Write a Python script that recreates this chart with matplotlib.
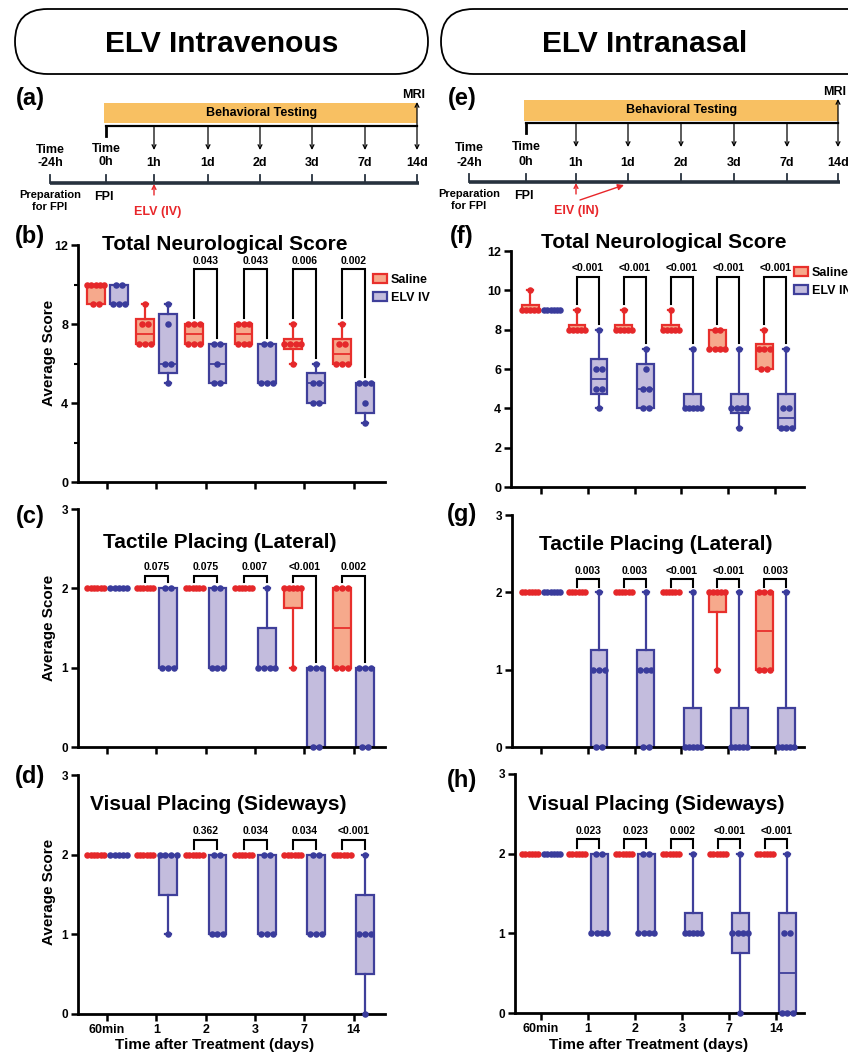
import numpy as np
import matplotlib
matplotlib.use('Agg')
import matplotlib.pyplot as plt
from matplotlib.patches import FancyBboxPatch, Rectangle, Patch

plt.rcParams['font.family'] = ['Liberation Sans', 'DejaVu Sans']
plt.rcParams['font.weight'] = 'bold'
plt.rcParams['axes.labelweight'] = 'bold'

W, H = 848, 1055

# ---------------- data ----------------
categories = ['60min', '1', '2', '3', '7', '14']
timeline_labels = ['1h', '1d', '2d', '3d', '7d', '14d']

# (b) ELV intravenous - Total Neurological Score
iv_total_saline = [[9, 9, 10, 10, 10, 10, 10], [7, 7, 7, 8, 8, 9], [7, 7, 7, 8, 8, 8],
                   [7, 7, 7, 8, 8, 8], [6, 7, 7, 7, 7, 8], [6, 6, 6, 7, 7, 8]]
iv_total_elv = [[9, 9, 9, 10, 10], [5, 6, 6, 8, 9], [5, 5, 6, 7, 7],
                [5, 5, 5, 7, 7], [4, 4, 5, 5, 6], [3, 4, 5, 5, 5]]
iv_total_p = ['', '', '0.043', '0.043', '0.006', '0.002']

# (c) ELV intravenous - Tactile Placing (Lateral)
iv_tactile_saline = [[2] * 6, [2] * 6, [2] * 6, [2] * 6, [1, 2, 2, 2, 2, 2], [1, 1, 1, 2, 2, 2]]
iv_tactile_elv = [[2] * 5, [1, 1, 1, 2, 2], [1, 1, 1, 2, 2], [1, 1, 1, 1, 2],
                  [0, 0, 1, 1, 1], [0, 0, 1, 1, 1]]
iv_tactile_p = ['', '0.075', '0.075', '0.007', '<0.001', '0.002']

# (d) ELV intravenous - Visual Placing (Sideways)
iv_visual_saline = [[2] * 6, [2] * 6, [2] * 6, [2] * 6, [2] * 6, [2] * 6]
iv_visual_elv = [[2] * 5, [1, 2, 2, 2, 2], [1, 1, 1, 2, 2], [1, 1, 1, 2, 2],
                 [1, 1, 1, 2, 2], [0, 1, 1, 1, 2]]
iv_visual_p = ['', '', '0.362', '0.034', '0.034', '<0.001']

# (f) ELV intranasal - Total Neurological Score
in_total_saline = [[9, 9, 9, 9, 9, 10], [8, 8, 8, 8, 8, 9], [8, 8, 8, 8, 8, 9],
                   [8, 8, 8, 8, 8, 9], [7, 7, 7, 7, 8, 8], [6, 6, 7, 7, 7, 8]]
in_total_elv = [[9] * 6, [4, 5, 5, 6, 6, 8], [4, 4, 5, 5, 6, 7],
                [4, 4, 4, 4, 4, 7], [3, 4, 4, 4, 4, 7], [3, 3, 3, 4, 4, 7]]
in_total_p = ['', '<0.001', '<0.001', '<0.001', '<0.001', '<0.001']

# (g) ELV intranasal - Tactile Placing (Lateral)
in_tactile_saline = [[2] * 6, [2] * 6, [2] * 6, [2] * 6, [1, 2, 2, 2, 2, 2], [1, 1, 1, 2, 2, 2]]
in_tactile_elv = [[2] * 6, [0, 0, 1, 1, 1, 2], [0, 0, 1, 1, 1, 2], [0, 0, 0, 0, 0, 2],
                  [0, 0, 0, 0, 0, 2], [0, 0, 0, 0, 0, 2]]
in_tactile_p = ['', '0.003', '0.003', '<0.001', '<0.001', '0.003']

# (h) ELV intranasal - Visual Placing (Sideways)
in_visual_saline = [[2] * 6, [2] * 6, [2] * 6, [2] * 6, [2] * 6, [2] * 6]
in_visual_elv = [[2] * 6, [1, 1, 1, 1, 2, 2], [1, 1, 1, 1, 2, 2], [1, 1, 1, 1, 1, 2],
                 [0, 1, 1, 1, 1, 2], [0, 0, 0, 1, 1, 2]]
in_visual_p = ['', '0.023', '0.023', '0.002', '<0.001', '<0.001']

# ---------------- style ----------------
SAL_EDGE, SAL_FACE, SAL_DOT = '#e8302c', '#f6a98c', '#e5282a'
ELV_EDGE, ELV_FACE, ELV_DOT = '#3f3f9a', '#c3bcdd', '#3a3c9c'
ORANGE = '#f8c062'
AXIS_DARK = '#27323e'

fig = plt.figure(figsize=(W / 100, H / 100), dpi=100)


def px_axes(x0, x1, ytop, ybot):
    return fig.add_axes([x0 / W, 1 - ybot / H, (x1 - x0) / W, (ybot - ytop) / H])


def draw_panel(box, saline, elv, pvals, ymax, yticks, yminor, brk_top, show_x,
               tick_size=9, legend_label=None, legend_xy=None):
    x0, x1, ytop, ybot, xc0, dx = box
    ax = px_axes(x0, x1, ytop, ybot)
    ax.set_facecolor('none')
    pos = np.arange(len(categories))
    groups = [(saline, -0.23, SAL_EDGE, SAL_FACE, SAL_DOT),
              (elv, 0.24, ELV_EDGE, ELV_FACE, ELV_DOT)]
    for vals_list, off, edge, face, dotc in groups:
        stats = []
        for v in vals_list:
            v = np.asarray(v, float)
            q1, med, q3 = np.percentile(v, [25, 50, 75], method='weibull')
            stats.append(dict(med=med, q1=q1, q3=q3, whislo=v.min(), whishi=v.max(), fliers=[]))
        ax.bxp(stats, positions=pos + off, widths=0.36, patch_artist=True, showfliers=False,
               capwidths=0.12, manage_ticks=False,
               boxprops=dict(facecolor=face, edgecolor=edge, linewidth=1.6),
               medianprops=dict(color=edge, linewidth=1.3),
               whiskerprops=dict(color=edge, linewidth=1.6),
               capprops=dict(color=edge, linewidth=1.6))
        for p, v in zip(pos + off, vals_list):
            xs, ys = [], []
            uniq, counts = np.unique(v, return_counts=True)
            for u, k in zip(uniq, counts):
                w = min(0.06 * (k - 1), 0.17)
                xs.extend(p + np.linspace(-w, w, k))
                ys.extend([u] * k)
            ax.scatter(xs, ys, s=22, color=dotc, zorder=4, clip_on=False, linewidths=0)
    gap = 0.025 * ymax
    for i, p in enumerate(pvals):
        if not p:
            continue
        xl, xr = i - 0.23, i + 0.24
        yl = max(saline[i]) + gap
        yr = max(elv[i]) + gap
        ax.plot([xl, xl, xr, xr], [yl, brk_top, brk_top, yr], color='k', lw=1.5,
                clip_on=False, solid_joinstyle='miter')
        ax.annotate(p, xy=((xl + xr) / 2, brk_top), xytext=(0, 2.5), textcoords='offset points',
                    ha='center', va='bottom', fontsize=7.5)
    ax.set_xlim((x0 - xc0) / dx, (x1 - xc0) / dx)
    ax.set_ylim(0, ymax)
    ax.set_yticks(yticks)
    ax.set_yticks(yminor, minor=True)
    ax.set_xticks(pos)
    ax.set_xticklabels(categories if show_x else [])
    for s in ['top', 'right']:
        ax.spines[s].set_visible(False)
    for s in ['left', 'bottom']:
        ax.spines[s].set_linewidth(2.0)
    ax.tick_params(axis='both', which='major', length=5, width=1.8, labelsize=tick_size, pad=2)
    ax.tick_params(axis='x', labelsize=9)
    ax.tick_params(axis='y', which='minor', length=3, width=1.5)
    if legend_label is not None:
        handles = [Patch(facecolor=SAL_FACE, edgecolor=SAL_EDGE, linewidth=1.6),
                   Patch(facecolor=ELV_FACE, edgecolor=ELV_EDGE, linewidth=1.6)]
        ax.legend(handles, ['Saline', legend_label], loc='upper left',
                  bbox_to_anchor=(legend_xy[0] / W, 1 - legend_xy[1] / H),
                  bbox_transform=fig.transFigure, frameon=False, fontsize=9,
                  handlelength=1.1, handleheight=0.75, handletextpad=0.35,
                  labelspacing=0.5, borderpad=0, borderaxespad=0)
    return ax


# left column geometry (pixels): x0, x1, y(top value), y(0), x of first category, category spacing
draw_panel((78, 385, 245, 482, 107, 49.3), iv_total_saline, iv_total_elv, iv_total_p,
           12, [0, 4, 8, 12], [2, 6, 10], 10.77, False, 9, 'ELV IV', (373, 274))
draw_panel((78, 385, 509, 747, 107, 49.3), iv_tactile_saline, iv_tactile_elv, iv_tactile_p,
           3, [0, 1, 2, 3], [], 2.16, False, 8.5)
draw_panel((78, 385, 775, 1014, 107, 49.3), iv_visual_saline, iv_visual_elv, iv_visual_p,
           3, [0, 1, 2, 3], [], 2.19, True, 8.5)
draw_panel((511, 804, 251, 487, 541, 46.8), in_total_saline, in_total_elv, in_total_p,
           12, [0, 2, 4, 6, 8, 10, 12], [], 10.68, False, 9, 'ELV IN', (794, 267))
draw_panel((512, 804, 515, 747, 541, 46.8), in_tactile_saline, in_tactile_elv, in_tactile_p,
           3, [0, 1, 2, 3], [], 2.17, False, 8.5)
draw_panel((515, 804, 774, 1013, 541, 47.0), in_visual_saline, in_visual_elv, in_visual_p,
           3, [0, 1, 2, 3], [], 2.18, True, 8.5)

# ---------------- overlay (banners, timelines, titles) ----------------
ov = fig.add_axes([0, 0, 1, 1], facecolor='none')
ov.set_xlim(0, W)
ov.set_ylim(H, 0)
ov.axis('off')

for (bx, bw, label, cx) in [(15, 413, 'ELV Intravenous', 222), (441, 440, 'ELV Intranasal', 645)]:
    ov.add_patch(FancyBboxPatch((bx, 9), bw, 65, boxstyle='round,pad=0,rounding_size=32.5',
                                fill=False, ec='k', lw=1.3))
    ov.text(cx, 44, label, ha='center', va='center', fontsize=21.5,
            family=['Liberation Sans Narrow', 'Liberation Sans'], weight='bold')


def timeline(xs, bar_y, brk_y, arr_end, time_y, lab_y, axis_y, red_label, red_x, extra_arrow):
    x_start, x_end = xs[1], xs[-1]
    ov.add_patch(Rectangle((x_start - 2, bar_y[0]), x_end - x_start + 2, bar_y[1] - bar_y[0],
                           facecolor=ORANGE, edgecolor='none'))
    ov.text((x_start + x_end) / 2, (bar_y[0] + bar_y[1]) / 2, 'Behavioral Testing',
            ha='center', va='center', fontsize=9)
    ov.plot([x_start, x_end], [brk_y, brk_y], color='k', lw=1.6)
    ov.plot([x_start, x_start], [brk_y, brk_y + 10], color='k', lw=2)
    for x in xs[2:]:
        ov.annotate('', xy=(x, arr_end), xytext=(x, brk_y),
                    arrowprops=dict(arrowstyle='->', lw=0.9, color='k', mutation_scale=7,
                                    shrinkA=0, shrinkB=0))
    ov.annotate('', xy=(x_end, bar_y[0] - 1), xytext=(x_end, brk_y),
                arrowprops=dict(arrowstyle='->', lw=0.9, color='k', mutation_scale=7,
                                shrinkA=0, shrinkB=0))
    ov.text(x_end - 3, bar_y[0] - 8, 'MRI', ha='center', va='center', fontsize=9)
    ov.text(xs[0], time_y, 'Time', ha='center', va='center', fontsize=9)
    ov.text(xs[0], lab_y, '-24h', ha='center', va='center', fontsize=9)
    ov.text(xs[1], time_y - 1, 'Time', ha='center', va='center', fontsize=9)
    ov.text(xs[1], lab_y - 1, '0h', ha='center', va='center', fontsize=9)
    for x, t in zip(xs[2:], timeline_labels):
        ov.text(x, lab_y, t, ha='center', va='center', fontsize=9)
    ov.plot([xs[0], xs[-1] + 2], [axis_y, axis_y], color=AXIS_DARK, lw=2.6,
            solid_capstyle='butt')
    for x in xs:
        ov.plot([x, x], [axis_y, axis_y - 8], color=AXIS_DARK, lw=1.3)
    ov.text(xs[0], axis_y + 12, 'Preparation', ha='center', va='center', fontsize=8)
    ov.text(xs[0], axis_y + 24, 'for FPI', ha='center', va='center', fontsize=8)
    ov.text(xs[1] - 2, axis_y + 14, 'FPI', ha='center', va='center', fontsize=9)
    ov.annotate('', xy=(xs[2], axis_y + 1), xytext=(xs[2], axis_y + 12),
                arrowprops=dict(arrowstyle='->', lw=1.0, color='#e8262a', mutation_scale=7,
                                shrinkA=0, shrinkB=0))
    if extra_arrow:
        ov.annotate('', xy=(xs[3] - 4, axis_y + 3), xytext=(xs[2] + 4, axis_y + 18),
                    arrowprops=dict(arrowstyle='-|>', lw=1.0, color='#e8262a', mutation_scale=9,
                                    shrinkA=0, shrinkB=0))
    ov.text(red_x, axis_y + 29, red_label, ha='center', va='center', fontsize=9,
            color='#e8262a')


timeline([50, 106, 154, 208, 260, 312, 365, 417], (103, 123), 126, 150, 150, 163, 183,
         'ELV (IV)', 158, False)
timeline([469, 526, 576, 628, 681, 734, 787, 838], (100, 121), 123, 147, 148, 163, 182,
         'EIV (IN)', 576, True)

# panel letters
for t, x, y in [('(a)', 30, 98), ('(e)', 462, 98), ('(b)', 30, 236), ('(f)', 462, 237),
                ('(c)', 30, 516), ('(g)', 462, 515), ('(d)', 30, 777), ('(h)', 462, 781)]:
    ov.text(x, y, t, ha='center', va='center', fontsize=17)

# titles
for t, x, y in [('Total Neurological Score', 225, 244), ('Total Neurological Score', 664, 243),
                ('Tactile Placing (Lateral)', 220, 543), ('Tactile Placing (Lateral)', 656, 545),
                ('Visual Placing (Sideways)', 218, 805), ('Visual Placing (Sideways)', 656, 805)]:
    ov.text(x, y, t, ha='center', va='center', fontsize=15)

# y labels
for y in [353, 628, 892]:
    ov.text(49, y, 'Average Score', ha='center', va='center', rotation=90, fontsize=11)

# x labels
for x in [215, 649]:
    ov.text(x, 1045, 'Time after Treatment (days)', ha='center', va='center', fontsize=11)

fig.savefig('out.png', dpi=100)
